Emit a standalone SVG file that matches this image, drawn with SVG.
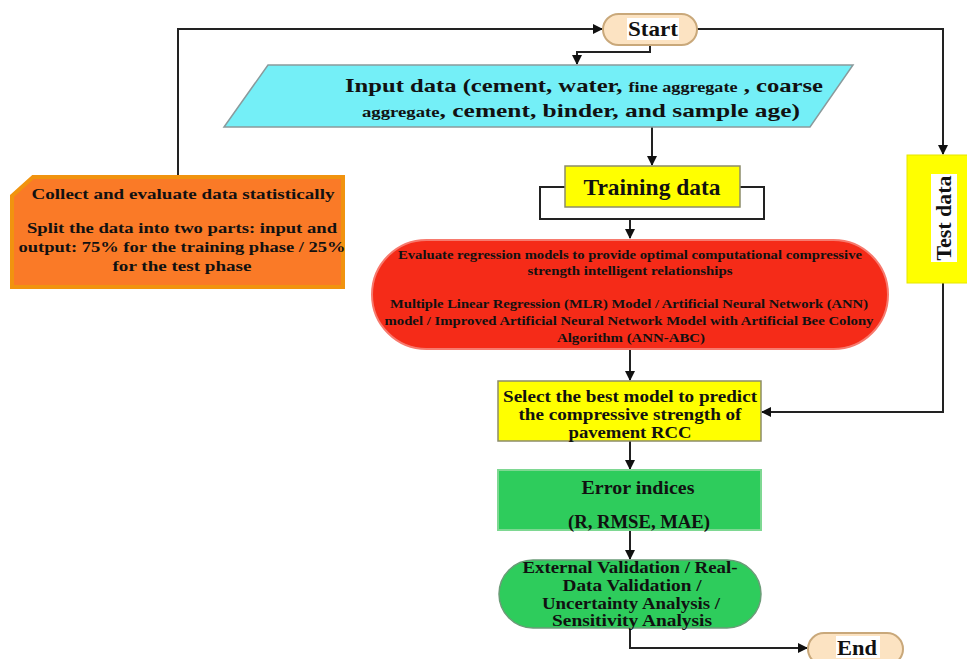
<svg xmlns="http://www.w3.org/2000/svg" width="967" height="659" viewBox="0 0 967 659">
<defs>
<marker id="ah" markerWidth="10" markerHeight="10" refX="9" refY="5" orient="auto" markerUnits="userSpaceOnUse">
<path d="M0,0 L10,5 L0,10 z" fill="#111"/>
</marker>
<style>
.t{font-family:"Liberation Serif","Times New Roman",serif;font-weight:bold;fill:#111;text-anchor:middle}
.c{fill:none;stroke:#222;stroke-width:2}
.a{fill:none;stroke:#222;stroke-width:2;marker-end:url(#ah)}
.term{fill:#FCE3C2;stroke:#C9A87A;stroke-width:2}
</style>
</defs>
<rect width="967" height="659" fill="#fff"/>
<g id="connectors">
<path class="a" d="M178,175 V29 H602"/>
<path class="a" d="M697,29 H943 V154"/>
<path class="a" d="M650,45 V52 H577 V64"/>
<path class="a" d="M652,127 V165"/>
<path class="c" d="M565,187 H540 V219 H764 V187 H740"/>
<path class="a" d="M630,219 V238"/>
<path class="a" d="M630,349 V380"/>
<path class="a" d="M943,283 V412 H762"/>
<path class="a" d="M630,441 V469"/>
<path class="a" d="M630,531 V559"/>
<path class="a" d="M630,628 V648 H807"/>
</g>
<g id="start">
<rect class="term" x="603" y="14" width="94" height="31" rx="15.5"/>
<rect x="627" y="18" width="52" height="22" fill="#fff"/>
<text class="t" x="653" y="36" font-size="21" textLength="50" lengthAdjust="spacingAndGlyphs">Start</text>
</g>
<g id="input">
<polygon points="268,65 853,65 810,127 224,127" fill="#74EFF7" stroke="#8a9a9c" stroke-width="1.5"/>
<text class="t" x="584" y="92" font-size="19" textLength="478" lengthAdjust="spacingAndGlyphs">Input data (cement, water, <tspan font-size="14">fine aggregate</tspan> , coarse</text>
<text class="t" x="581" y="117" font-size="19" textLength="438" lengthAdjust="spacingAndGlyphs"><tspan font-size="14">aggregate</tspan>, cement, binder, and sample age)</text>
</g>
<g id="training">
<rect x="565" y="166" width="175" height="41" fill="#FFFF00" stroke="#8c8c6a" stroke-width="1.5"/>
<text class="t" x="652" y="195" font-size="23" textLength="137" lengthAdjust="spacingAndGlyphs">Training data</text>
</g>
<g id="collect">
<path d="M33,177 H343 V287 H12 V196 z" fill="#FA7A27" stroke="#F1930F" stroke-width="4"/>
<text class="t" x="183" y="199" font-size="15" textLength="303" lengthAdjust="spacingAndGlyphs">Collect and evaluate data statistically</text>
<text class="t" x="182" y="233" font-size="15" textLength="310" lengthAdjust="spacingAndGlyphs">Split the data into two parts: input and</text>
<text class="t" x="182" y="252" font-size="15" textLength="327" lengthAdjust="spacingAndGlyphs">output: 75% for the training phase / 25%</text>
<text class="t" x="182" y="271" font-size="15" textLength="139" lengthAdjust="spacingAndGlyphs">for the test phase</text>
</g>
<g id="evaluate">
<rect x="372" y="240" width="516" height="109" rx="54.5" fill="#F52B18" stroke="#F77A6E" stroke-width="2"/>
<text class="t" x="630" y="259" font-size="12.5" textLength="464" lengthAdjust="spacingAndGlyphs">Evaluate regression models to provide optimal computational compressive</text>
<text class="t" x="630" y="275" font-size="12.5" textLength="205" lengthAdjust="spacingAndGlyphs">strength intelligent relationships</text>
<text class="t" x="629" y="308" font-size="12.5" textLength="478" lengthAdjust="spacingAndGlyphs">Multiple Linear Regression (MLR) Model / Artificial Neural Network (ANN)</text>
<text class="t" x="629" y="325" font-size="12.5" textLength="489" lengthAdjust="spacingAndGlyphs">model / Improved Artificial Neural Network Model with Artificial Bee Colony</text>
<text class="t" x="631" y="342" font-size="12.5" textLength="148" lengthAdjust="spacingAndGlyphs">Algorithm (ANN-ABC)</text>
</g>
<g id="testdata">
<rect x="907" y="155" width="62" height="128" fill="#FFFF00" stroke="#e6e600" stroke-width="1"/>
<rect x="931" y="174" width="26" height="88" fill="#fff"/>
<text class="t" transform="translate(951,218) rotate(-90)" x="0" y="0" font-size="20" textLength="85" lengthAdjust="spacingAndGlyphs">Test data</text>
</g>
<g id="select">
<rect x="498" y="381" width="263" height="60" fill="#FFFF00" stroke="#8c8c6a" stroke-width="1.5"/>
<text class="t" x="630" y="402" font-size="16" textLength="254" lengthAdjust="spacingAndGlyphs">Select the best model to predict</text>
<text class="t" x="630" y="420" font-size="16" textLength="223" lengthAdjust="spacingAndGlyphs">the compressive strength of</text>
<text class="t" x="630" y="438" font-size="16" textLength="123" lengthAdjust="spacingAndGlyphs">pavement RCC</text>
</g>
<g id="error">
<rect x="498" y="470" width="263" height="60" fill="#2ECC5C" stroke="#7ED892" stroke-width="2"/>
<text class="t" x="638" y="494" font-size="19" textLength="113" lengthAdjust="spacingAndGlyphs">Error indices</text>
<text class="t" x="639" y="528" font-size="19" textLength="142" lengthAdjust="spacingAndGlyphs">(R, RMSE, MAE)</text>
</g>
<g id="validation">
<rect x="499" y="560" width="262" height="68" rx="34" fill="#2ECC5C" stroke="#6b9c78" stroke-width="1.5"/>
<text class="t" x="630" y="573" font-size="16" textLength="215" lengthAdjust="spacingAndGlyphs">External Validation / Real-</text>
<text class="t" x="632" y="591" font-size="16" textLength="139" lengthAdjust="spacingAndGlyphs">Data Validation /</text>
<text class="t" x="631" y="609" font-size="16" textLength="178" lengthAdjust="spacingAndGlyphs">Uncertainty Analysis /</text>
<text class="t" x="632" y="626" font-size="16" textLength="160" lengthAdjust="spacingAndGlyphs">Sensitivity Analysis</text>
</g>
<g id="end">
<rect class="term" x="808" y="633" width="95" height="32" rx="16"/>
<rect x="836" y="636" width="44" height="22" fill="#fff"/>
<text class="t" x="857" y="655" font-size="22" textLength="40" lengthAdjust="spacingAndGlyphs">End</text>
</g>
</svg>
